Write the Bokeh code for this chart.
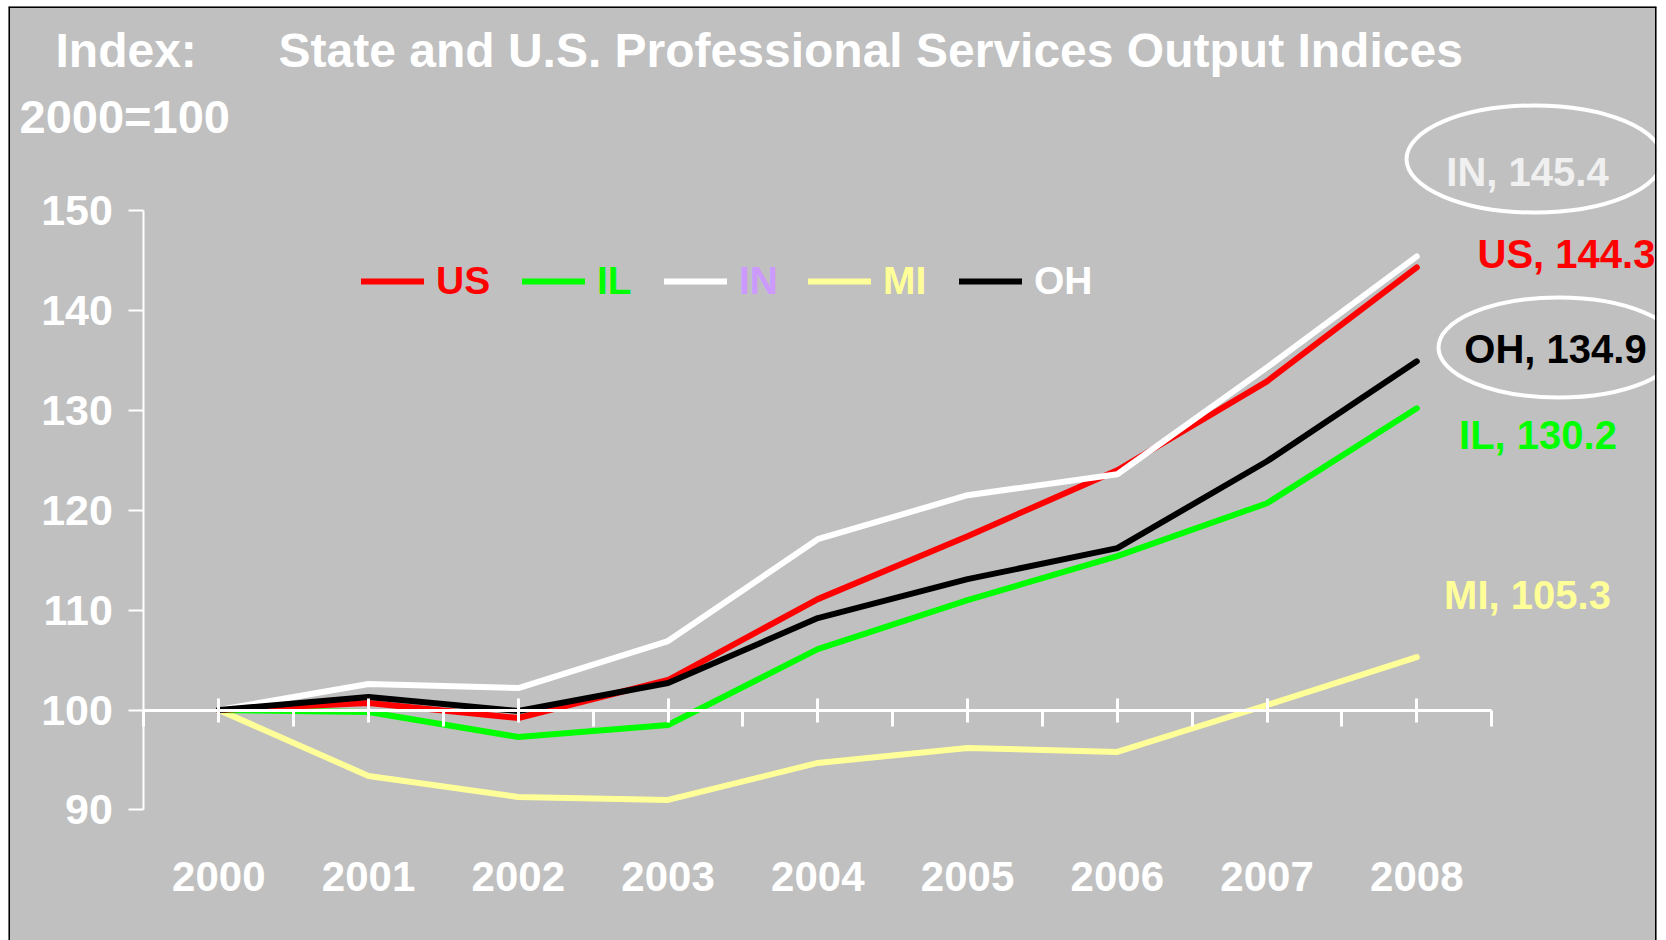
from bokeh.plotting import figure
from bokeh.models import (LinearAxis, FixedTicker, Legend, LegendItem, Label, Span,
                          Range1d, ColumnDataSource)
from bokeh.embed import file_html
from bokeh.resources import INLINE
from bokeh.core.properties import value

# ---------------- data ----------------
years = [2000, 2001, 2002, 2003, 2004, 2005, 2006, 2007, 2008]
year_labels = ["2000", "2001", "2002", "2003", "2004", "2005", "2006", "2007", "2008"]
us = [100.0, 100.7, 99.2, 103.0, 111.1, 117.4, 124.0, 132.9, 144.3]
il = [100.0, 99.8, 97.3, 98.5, 106.1, 111.0, 115.4, 120.7, 130.2]
in_ = [100.0, 102.6, 102.2, 106.9, 117.1, 121.5, 123.6, 134.3, 145.4]
mi = [100.0, 93.4, 91.3, 91.0, 94.7, 96.2, 95.8, 100.5, 105.3]
oh = [100.0, 101.3, 99.9, 102.7, 109.2, 113.1, 116.2, 124.9, 134.9]
y_ticks = [90, 100, 110, 120, 130, 140, 150]

series_names = ["US", "IL", "IN", "MI", "OH"]
series_values = {"US": us, "IL": il, "IN": in_, "MI": mi, "OH": oh}
line_colors = {"US": "#FF0000", "IL": "#00FF00", "IN": "#FFFFFF", "MI": "#FFFF99", "OH": "#000000"}
legend_text_colors = {"US": "#FF0000", "IL": "#00FF00", "IN": "#CC99FF", "MI": "#FFFF99", "OH": "#FFFFFF"}
end_label_colors = {"US": "#FF0000", "IL": "#00FF00", "IN": "#F0F0F0", "MI": "#FFFF99", "OH": "#000000"}
draw_order = ["MI", "IL", "US", "IN", "OH"]
circled = ["IN", "OH"]

title_text = "State and U.S. Professional Services Output Indices"
unit_line1 = "Index:"
unit_line2 = "2000=100"

# ---------------- layout ----------------
GRAY = "#C0C0C0"
FONT = "Liberation Sans"
W, H = 1660, 940
ML, MT, MR = 8, 6, 4           # white margins around the grey panel
FW, FH = W - ML - MR, H - MT   # frame size
PX_PER_YEAR = 149.75
PX_PER_UNIT = 9.99
X_START = 2000 - (218.3 - ML) / PX_PER_YEAR
Y_END = 150 + (210 - MT) / PX_PER_UNIT


def dx(page_x):
    return X_START + (page_x - ML) / PX_PER_YEAR


def dy(page_y):
    return Y_END - (page_y - MT) / PX_PER_UNIT


p = figure(width=W, height=H,
           x_range=Range1d(X_START, X_START + FW / PX_PER_YEAR),
           y_range=Range1d(Y_END - FH / PX_PER_UNIT, Y_END),
           x_axis_type=None, y_axis_type=None,
           toolbar_location=None, output_backend="svg",
           min_border_left=ML, min_border_top=MT, min_border_right=MR, min_border_bottom=0,
           background_fill_color=GRAY, border_fill_color="white",
           outline_line_color=None)

# x axis crossing at 100, labels at the bottom
half = [y - 0.5 for y in years] + [years[-1] + 0.5]
xaxis = LinearAxis(fixed_location=100,
                   ticker=FixedTicker(ticks=years, minor_ticks=half),
                   bounds=(years[0] - 0.5, years[-1] + 0.5),
                   major_label_overrides={y: s for y, s in zip(years, year_labels)})
xaxis.axis_line_color = "white"
xaxis.axis_line_width = 3
xaxis.major_tick_line_color = "white"
xaxis.major_tick_line_width = 3
xaxis.major_tick_in = 12
xaxis.major_tick_out = 12
xaxis.minor_tick_line_color = "white"
xaxis.minor_tick_line_width = 3
xaxis.minor_tick_in = 0
xaxis.minor_tick_out = 16
xaxis.major_label_text_color = "white"
xaxis.major_label_text_font = FONT
xaxis.major_label_text_font_style = "bold"
xaxis.major_label_text_font_size = "42px"
xaxis.major_label_standoff = 136
p.add_layout(xaxis, "below")

yaxis = LinearAxis(fixed_location=years[0] - 0.5,
                   ticker=FixedTicker(ticks=y_ticks, minor_ticks=[]),
                   bounds=(y_ticks[0], y_ticks[-1]))
yaxis.axis_line_color = "white"
yaxis.axis_line_width = 2
yaxis.major_tick_line_color = "white"
yaxis.major_tick_line_width = 2
yaxis.major_tick_in = 0
yaxis.major_tick_out = 15
yaxis.minor_tick_line_color = None
yaxis.major_label_text_color = "white"
yaxis.major_label_text_font = FONT
yaxis.major_label_text_font_style = "bold"
yaxis.major_label_text_font_size = "43px"
yaxis.major_label_standoff = 16
p.add_layout(yaxis, "left")

# lines
renderers = {}
for name in draw_order:
    renderers[name] = p.line(years, series_values[name], line_color=line_colors[name],
                             line_width=6, line_cap="round")

# legends (one per series so each label keeps its own colour)
legend_x = {"US": 353, "IL": 514, "IN": 656, "MI": 800, "OH": 951}
for name in series_names:
    leg = Legend(items=[LegendItem(label=name, renderers=[renderers[name]])],
                 location=(legend_x[name], 636), orientation="horizontal",
                 background_fill_alpha=0, border_line_alpha=0,
                 padding=0, margin=0, glyph_width=63, glyph_height=46,
                 label_height=46, label_standoff=12,
                 label_text_font=FONT, label_text_font_style="bold",
                 label_text_font_size="39px", label_text_color=legend_text_colors[name])
    p.add_layout(leg)

# end labels (positions = centre of the text)
label_pos = {"IN": (1527, 171), "US": (1566, 253), "OH": (1555, 348),
             "IL": (1537.5, 434), "MI": (1527, 594.5)}
src = ColumnDataSource(dict(
    x=[dx(label_pos[n][0]) for n in series_names],
    y=[dy(label_pos[n][1]) for n in series_names],
    text=[f"{n}, {series_values[n][-1]:.1f}" for n in series_names],
    color=[end_label_colors[n] for n in series_names],
))
p.text(x="x", y="y", text="text", text_color="color", source=src,
       text_font=value(FONT), text_font_style="bold", text_font_size="40px",
       text_align="center", text_baseline="alphabetic")

# ellipses around IN and OH labels
ell = {"IN": (1534, 158.5, 256, 107), "OH": (1558, 347, 240, 100)}
p.ellipse(x=[dx(ell[n][0]) for n in circled], y=[dy(ell[n][1]) for n in circled],
          width=[ell[n][2] for n in circled], height=[ell[n][3] for n in circled],
          width_units="screen", height_units="screen",
          fill_color=None, line_color="white", line_width=4)

# titles
for txt, px, py, fs in [(unit_line1, 55, 50, "48px"), (unit_line2, 19, 116, "47px"),
                        (title_text, 278, 50, "48px")]:
    p.add_layout(Label(x=dx(px), y=dy(py), text=txt, text_color="white",
                       text_font=FONT, text_font_style="bold", text_font_size=fs,
                       text_align="left", text_baseline="alphabetic"))

# outer frame (left, top, right)
p.add_layout(Span(location=p.x_range.start, dimension="height", line_color="black", line_width=3))
p.add_layout(Span(location=p.x_range.end, dimension="height", line_color="black", line_width=3))
p.add_layout(Span(location=p.y_range.end, dimension="width", line_color="black", line_width=3))

open("out.html", "w").write(file_html(p, INLINE))
